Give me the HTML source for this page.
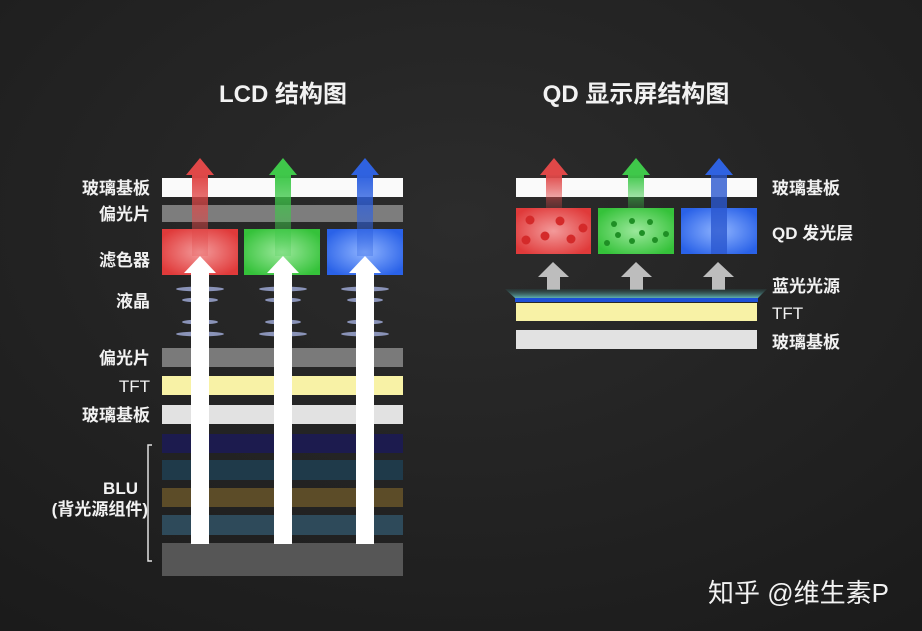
<!DOCTYPE html>
<html><head><meta charset="utf-8"><style>
html,body{margin:0;padding:0;}
body{width:922px;height:631px;overflow:hidden;background:#262626;}
svg{display:block;}
text{font-family:"Liberation Sans","Noto Sans CJK SC",sans-serif;fill:#f2f2f2;}
</style></head><body>
<svg width="922" height="631" viewBox="0 0 922 631" xmlns="http://www.w3.org/2000/svg">
<defs>
<radialGradient id="bg" cx="0.5" cy="0.35" r="0.8">
<stop offset="0" stop-color="#2c2c2c"/><stop offset="1" stop-color="#1b1b1b"/>
</radialGradient>
<radialGradient id="rf" cx="0.5" cy="0.5" r="0.6"><stop offset="0" stop-color="#f39a9a"/><stop offset="1" stop-color="#e03a3a"/></radialGradient>
<radialGradient id="gf" cx="0.5" cy="0.5" r="0.6"><stop offset="0" stop-color="#9be89b"/><stop offset="1" stop-color="#35c23a"/></radialGradient>
<radialGradient id="bf" cx="0.5" cy="0.5" r="0.6"><stop offset="0" stop-color="#8fb4ff"/><stop offset="1" stop-color="#2a62e8"/></radialGradient>
<linearGradient id="rs" x1="0" y1="0" x2="0" y2="1"><stop offset="0" stop-color="#e04848"/><stop offset="1" stop-color="#e04848" stop-opacity="0.2"/></linearGradient>
<linearGradient id="gs" x1="0" y1="0" x2="0" y2="1"><stop offset="0" stop-color="#3fc84a"/><stop offset="1" stop-color="#3fc84a" stop-opacity="0.2"/></linearGradient>
<linearGradient id="bs" x1="0" y1="0" x2="0" y2="1"><stop offset="0" stop-color="#2f62e0"/><stop offset="1" stop-color="#2f62e0" stop-opacity="0.3"/></linearGradient>
<linearGradient id="glow" x1="0" y1="0" x2="0" y2="1"><stop offset="0" stop-color="#2a4a48" stop-opacity="0.3"/><stop offset="1" stop-color="#5fb0b0"/></linearGradient>
</defs>
<rect width="922" height="631" fill="url(#bg)"/>

<text x="283" y="102" font-size="24" font-weight="bold" text-anchor="middle">LCD 结构图</text>
<text x="636" y="102" font-size="24" font-weight="bold" text-anchor="middle">QD 显示屏结构图</text>

<rect x="162" y="178" width="241" height="19" fill="#fafafa"/>
<rect x="162" y="205" width="241" height="17" fill="#7d7d7d"/>
<rect x="162" y="229" width="76" height="46" fill="url(#rf)"/>
<rect x="244" y="229" width="76" height="46" fill="url(#gf)"/>
<rect x="327" y="229" width="76" height="46" fill="url(#bf)"/>
<rect x="162" y="348" width="241" height="19" fill="#7a7a7a"/>
<rect x="162" y="376" width="241" height="19" fill="#f8f2a6"/>
<rect x="162" y="405" width="241" height="19" fill="#e2e2e2"/>
<rect x="162" y="434" width="241" height="19" fill="#1c1b4e"/>
<rect x="162" y="460" width="241" height="20" fill="#1f3a4a"/>
<rect x="162" y="488" width="241" height="19" fill="#5c4c28"/>
<rect x="162" y="515" width="241" height="20" fill="#2e4a5a"/>
<rect x="162" y="543" width="241" height="33" fill="#565656"/>

<g>
<rect x="192" y="174" width="16" height="82" fill="url(#rs)"/><polygon points="186,175 214,175 200,158" fill="#e04848"/>
<rect x="275" y="174" width="16" height="82" fill="url(#gs)"/><polygon points="269,175 297,175 283,158" fill="#3fc84a"/>
<rect x="357" y="174" width="16" height="82" fill="url(#bs)"/><polygon points="351,175 379,175 365,158" fill="#2f62e0"/>
</g>
<g fill="#8a93b8">
<ellipse cx="200" cy="289" rx="24" ry="2.5"/><ellipse cx="200" cy="300" rx="18" ry="2.5"/><ellipse cx="200" cy="322" rx="18" ry="2.5"/><ellipse cx="200" cy="334" rx="24" ry="2.5"/>
<ellipse cx="283" cy="289" rx="24" ry="2.5"/><ellipse cx="283" cy="300" rx="18" ry="2.5"/><ellipse cx="283" cy="322" rx="18" ry="2.5"/><ellipse cx="283" cy="334" rx="24" ry="2.5"/>
<ellipse cx="365" cy="289" rx="24" ry="2.5"/><ellipse cx="365" cy="300" rx="18" ry="2.5"/><ellipse cx="365" cy="322" rx="18" ry="2.5"/><ellipse cx="365" cy="334" rx="24" ry="2.5"/>
</g>
<g fill="#ffffff">
<rect x="191" y="270" width="18" height="274"/><polygon points="184,273 216,273 200,256"/>
<rect x="274" y="270" width="18" height="274"/><polygon points="267,273 299,273 283,256"/>
<rect x="356" y="270" width="18" height="274"/><polygon points="349,273 381,273 365,256"/>
</g>
<path d="M152,445 H148 V561 H152" stroke="#e0e0e0" stroke-width="1.5" fill="none"/>

<g font-size="17" text-anchor="end" font-weight="bold">
<text x="150" y="194">玻璃基板</text>
<text x="150" y="220">偏光片</text>
<text x="150" y="266">滤色器</text>
<text x="150" y="307">液晶</text>
<text x="150" y="364">偏光片</text>
<text x="150" y="392" font-weight="normal">TFT</text>
<text x="150" y="421">玻璃基板</text>
<text x="138" y="494">BLU</text>
<text x="148" y="515">(背光源组件)</text>
</g>

<rect x="516" y="178" width="241" height="19" fill="#fafafa"/>
<rect x="516" y="208" width="75" height="46" fill="url(#rf)"/>
<rect x="598" y="208" width="76" height="46" fill="url(#gf)"/>
<rect x="681" y="208" width="76" height="46" fill="url(#bf)"/>
<g fill="#d42a2a">
<circle cx="530" cy="220" r="4.5"/><circle cx="560" cy="221" r="4.5"/><circle cx="583" cy="228" r="4.5"/><circle cx="545" cy="236" r="4.5"/><circle cx="526" cy="240" r="4.5"/><circle cx="571" cy="239" r="4.5"/>
</g>
<g fill="#1f8f25">
<circle cx="614" cy="224" r="3"/><circle cx="632" cy="221" r="3"/><circle cx="650" cy="222" r="3"/><circle cx="618" cy="235" r="3"/><circle cx="642" cy="233" r="3"/><circle cx="666" cy="234" r="3"/><circle cx="632" cy="241" r="3"/><circle cx="655" cy="240" r="3"/><circle cx="607" cy="243" r="3"/>
</g>
<rect x="546" y="174" width="16" height="36" fill="url(#rs)"/><polygon points="540,175 568,175 554,158" fill="#e04848"/>
<rect x="628" y="174" width="16" height="36" fill="url(#gs)"/><polygon points="622,175 650,175 636,158" fill="#3fc84a"/>
<rect x="711" y="174" width="16" height="80" fill="#2a58d0" opacity="0.8"/><polygon points="705,175 733,175 719,158" fill="#2f62e0"/>
<g fill="#bdbdbd">
<rect x="547" y="276" width="13" height="14"/><polygon points="538,277 569,277 553,262"/>
<rect x="630" y="276" width="13" height="14"/><polygon points="621,277 652,277 636,262"/>
<rect x="712" y="276" width="13" height="14"/><polygon points="703,277 734,277 718,262"/>
</g>
<polygon points="505,289 767,289 758,298 515,298" fill="url(#glow)"/>
<rect x="515" y="298" width="243" height="4" fill="#1d4fd8"/>
<rect x="516" y="303" width="241" height="18" fill="#f8f2a6"/>
<rect x="516" y="330" width="241" height="19" fill="#e2e2e2"/>
<g font-size="17" font-weight="bold">
<text x="772" y="194">玻璃基板</text>
<text x="772" y="239">QD 发光层</text>
<text x="772" y="292">蓝光光源</text>
<text x="772" y="319" font-weight="normal">TFT</text>
<text x="772" y="348">玻璃基板</text>
</g>

<text x="708" y="602" font-size="26">知乎 @维生素P</text>
</svg>
</body></html>
